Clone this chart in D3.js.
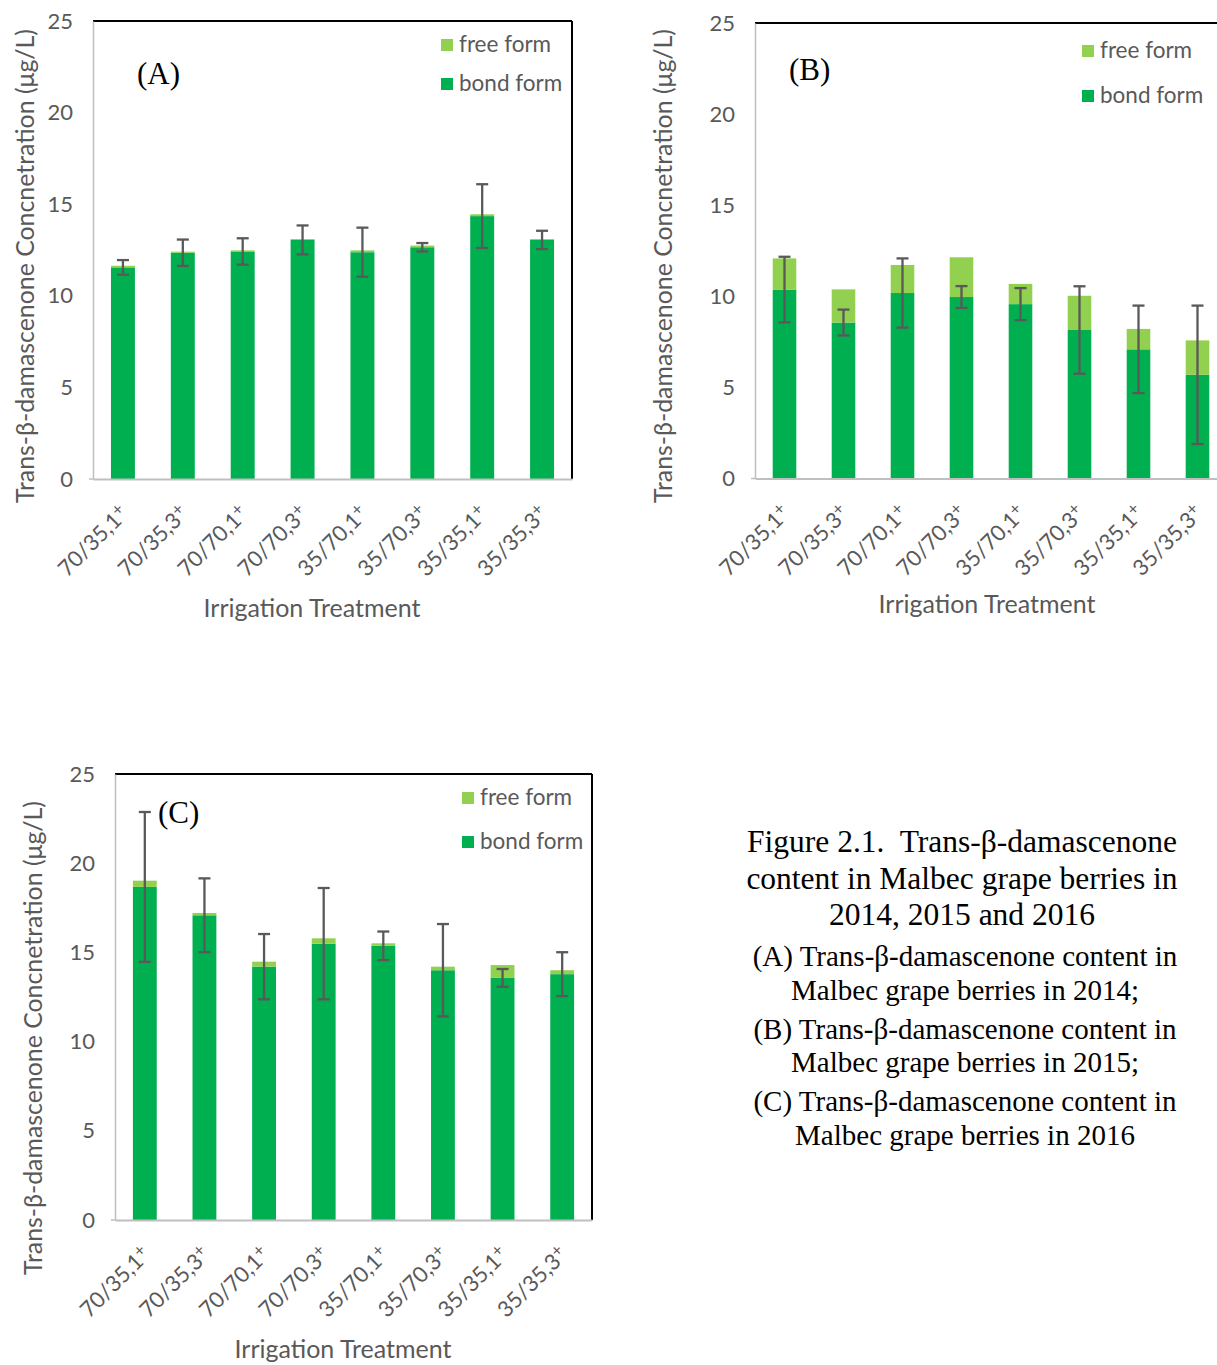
<!DOCTYPE html>
<html>
<head>
<meta charset="utf-8">
<script src="https://cdn.jsdelivr.net/npm/d3@7"></script>
<style>
  html, body { margin: 0; padding: 0; background: #fff; }
  svg { display: block; }
  text { white-space: pre; }
</style>
</head>
<body>
<svg id="fig" width="1217" height="1365"></svg>
<script>
// Irrigation treatments (the "+" is drawn as a superscript)
const categories = ["70/35,1", "70/35,3", "70/70,1", "70/70,3", "35/70,1", "35/70,3", "35/35,1", "35/35,3"];

// 2014 (A)
const bondA = [11.55, 12.35, 12.42, 13.05, 12.38, 12.65, 14.35, 13.05];
const freeA = [0.09, 0.06, 0.06, 0.05, 0.10, 0.09, 0.10, 0.05];
const errA  = [0.40, 0.72, 0.72, 0.79, 1.34, 0.23, 1.74, 0.50];

// 2015 (B)
const bondB = [10.37, 8.56, 10.18, 9.96, 9.57, 8.15, 7.09, 5.69];
const freeB = [1.71, 1.82, 1.54, 2.18, 1.11, 1.88, 1.12, 1.89];
const errB  = [1.80, 0.71, 1.90, 0.60, 0.88, 2.40, 2.40, 3.80];

// 2016 (C)
const bondC = [18.67, 17.08, 14.20, 15.49, 15.37, 14.00, 13.57, 13.78];
const freeC = [0.35, 0.13, 0.28, 0.30, 0.14, 0.20, 0.72, 0.22];
const errC  = [4.20, 2.07, 1.83, 3.12, 0.80, 2.59, 0.50, 1.23];

const yTicks = [0, 5, 10, 15, 20, 25];
const seriesNames = ["bond form", "free form"];
const legendOrder = ["free form", "bond form"];
const yTitle = "Trans-\u03b2-damascenone Concnetration (\u03bcg/L)";
const xTitle = "Irrigation Treatment";

const captionTitle = ["Figure 2.1.  Trans-\u03b2-damascenone", "content in Malbec grape berries in", "2014, 2015 and 2016"];
const captionParts = [
  ["(A) Trans-\u03b2-damascenone content in", "Malbec grape berries in 2014;"],
  ["(B) Trans-\u03b2-damascenone content in", "Malbec grape berries in 2015;"],
  ["(C) Trans-\u03b2-damascenone content in", "Malbec grape berries in 2016"]
];

const colors = { "bond form": "#00b050", "free form": "#92d050" };
const textGray = "#595959";
const sansFont = "Lato, 'Open Sans', sans-serif";
const serifFont = "'Liberation Serif', 'Times New Roman', serif";

const svg = d3.select("#fig");

function drawPanel(cfg) {
  const { x0, x1, y0, y1, bond, free, err, label, labelPos, legendPos, yTitleX, yTitleY, xTitleX, xTitleY } = cfg;
  const g = svg.append("g");

  const x = d3.scaleBand().domain(categories).range([x0, x1]).paddingInner(0.6).paddingOuter(0.3);
  const y = d3.scaleLinear().domain([0, 25]).range([y1, y0]);

  const rows = categories.map((c, i) => ({ cat: c, "bond form": bond[i], "free form": free[i], err: err[i] }));
  const stacked = d3.stack().keys(seriesNames)(rows);

  // frame: black top and right edges
  g.append("line").attr("x1", x0).attr("x2", x1).attr("y1", y0).attr("y2", y0)
    .attr("stroke", "#000").attr("stroke-width", 2);
  g.append("line").attr("x1", x1).attr("x2", x1).attr("y1", y0).attr("y2", y1)
    .attr("stroke", "#000").attr("stroke-width", 2);

  // stacked bars
  g.selectAll("g.series").data(stacked).join("g")
    .attr("fill", d => colors[d.key])
    .selectAll("rect").data(d => d).join("rect")
    .attr("x", d => x(d.data.cat))
    .attr("width", x.bandwidth())
    .attr("y", d => y(d[1]))
    .attr("height", d => y(d[0]) - y(d[1]));

  // error bars on the bond form
  const capW = 6;
  const eb = g.append("g").attr("stroke", "#595959").attr("stroke-width", 2.3);
  rows.forEach(r => {
    const cx = x(r.cat) + x.bandwidth() / 2;
    const top = y(r["bond form"] + r.err), bot = y(r["bond form"] - r.err);
    eb.append("line").attr("x1", cx).attr("x2", cx).attr("y1", top).attr("y2", bot);
    eb.append("line").attr("x1", cx - capW).attr("x2", cx + capW).attr("y1", top).attr("y2", top);
    eb.append("line").attr("x1", cx - capW).attr("x2", cx + capW).attr("y1", bot).attr("y2", bot);
  });

  // axes (gray left and bottom)
  const yAxis = d3.axisLeft(y).tickValues(yTicks).tickSize(0).tickPadding(20);
  const ya = g.append("g").attr("transform", `translate(${x0},0)`).call(yAxis);
  ya.select(".domain").attr("stroke", "#bfbfbf").attr("stroke-width", 1.5);
  ya.selectAll("text").attr("fill", textGray).style("font-family", sansFont).style("font-size", "22px");
  g.append("line").attr("x1", x0 - 4).attr("x2", x0).attr("y1", y1).attr("y2", y1).attr("stroke", "#bfbfbf").attr("stroke-width", 1.5);

  const xAxis = d3.axisBottom(x).tickSize(0).tickFormat("");
  const xa = g.append("g").attr("transform", `translate(0,${y1})`).call(xAxis);
  xa.select(".domain").attr("stroke", "#bfbfbf").attr("stroke-width", 2);

  // rotated category labels
  categories.forEach(c => {
    const cx = x(c) + x.bandwidth() / 2;
    const t = g.append("text")
      .attr("transform", `translate(${cx + 7},${y1 + 36}) rotate(-45)`)
      .attr("text-anchor", "end")
      .attr("fill", textGray).style("font-family", sansFont).style("font-size", "22px");
    t.append("tspan").text(c);
    t.append("tspan").attr("dy", -7).style("font-size", "17px").text("+");
  });

  // axis titles
  g.append("text")
    .attr("transform", `translate(${yTitleX},${yTitleY}) rotate(-90)`)
    .attr("text-anchor", "middle")
    .attr("fill", textGray).style("font-family", sansFont).style("font-size", "25px")
    .attr("textLength", 474).attr("lengthAdjust", "spacingAndGlyphs")
    .text(yTitle);
  g.append("text")
    .attr("x", xTitleX).attr("y", xTitleY)
    .attr("text-anchor", "middle")
    .attr("fill", textGray).style("font-family", sansFont).style("font-size", "25px")
    .text(xTitle);

  // panel letter
  g.append("text").attr("x", labelPos[0]).attr("y", labelPos[1])
    .attr("fill", "#000").style("font-family", serifFont).style("font-size", "31px")
    .text(label);

  // legend
  const lg = g.append("g").attr("transform", `translate(${legendPos[0]},${legendPos[1]})`);
  legendOrder.forEach((k, i) => {
    const row = lg.append("g").attr("transform", `translate(0,${i * legendPos[2]})`);
    row.append("rect").attr("x", 0).attr("y", -13).attr("width", 12).attr("height", 12).attr("fill", colors[k]);
    row.append("text").attr("x", 18).attr("y", 0)
      .attr("fill", textGray).style("font-family", sansFont).style("font-size", "22.5px").text(k);
  });

  return { x, y };
}

drawPanel({ x0: 93, x1: 572, y0: 21, y1: 479, bond: bondA, free: freeA, err: errA,
  label: "(A)", labelPos: [137, 84], legendPos: [441, 52, 39], yTitleX: 34, yTitleY: 266, xTitleX: 312, xTitleY: 617 });
drawPanel({ x0: 755, x1: 1227, y0: 23, y1: 478.5, bond: bondB, free: freeB, err: errB,
  label: "(B)", labelPos: [789, 80], legendPos: [1082, 58, 45], yTitleX: 672, yTitleY: 266, xTitleX: 987, xTitleY: 613 });
drawPanel({ x0: 115, x1: 592, y0: 774, y1: 1220, bond: bondC, free: freeC, err: errC,
  label: "(C)", labelPos: [158, 823], legendPos: [462, 805, 44], yTitleX: 42, yTitleY: 1038, xTitleX: 343, xTitleY: 1358 });

// caption
const cap = svg.append("g").attr("text-anchor", "middle").attr("fill", "#000").style("font-family", serifFont);
captionTitle.forEach((line, i) => {
  cap.append("text").attr("x", 962).attr("y", 852 + i * 36.5).style("font-size", "31.5px").text(line);
});
captionParts.forEach((pair, j) => {
  pair.forEach((line, i) => {
    cap.append("text").attr("x", 965).attr("y", 966 + j * 72.5 + i * 33.5).style("font-size", "29px").text(line);
  });
});
</script>
</body>
</html>
